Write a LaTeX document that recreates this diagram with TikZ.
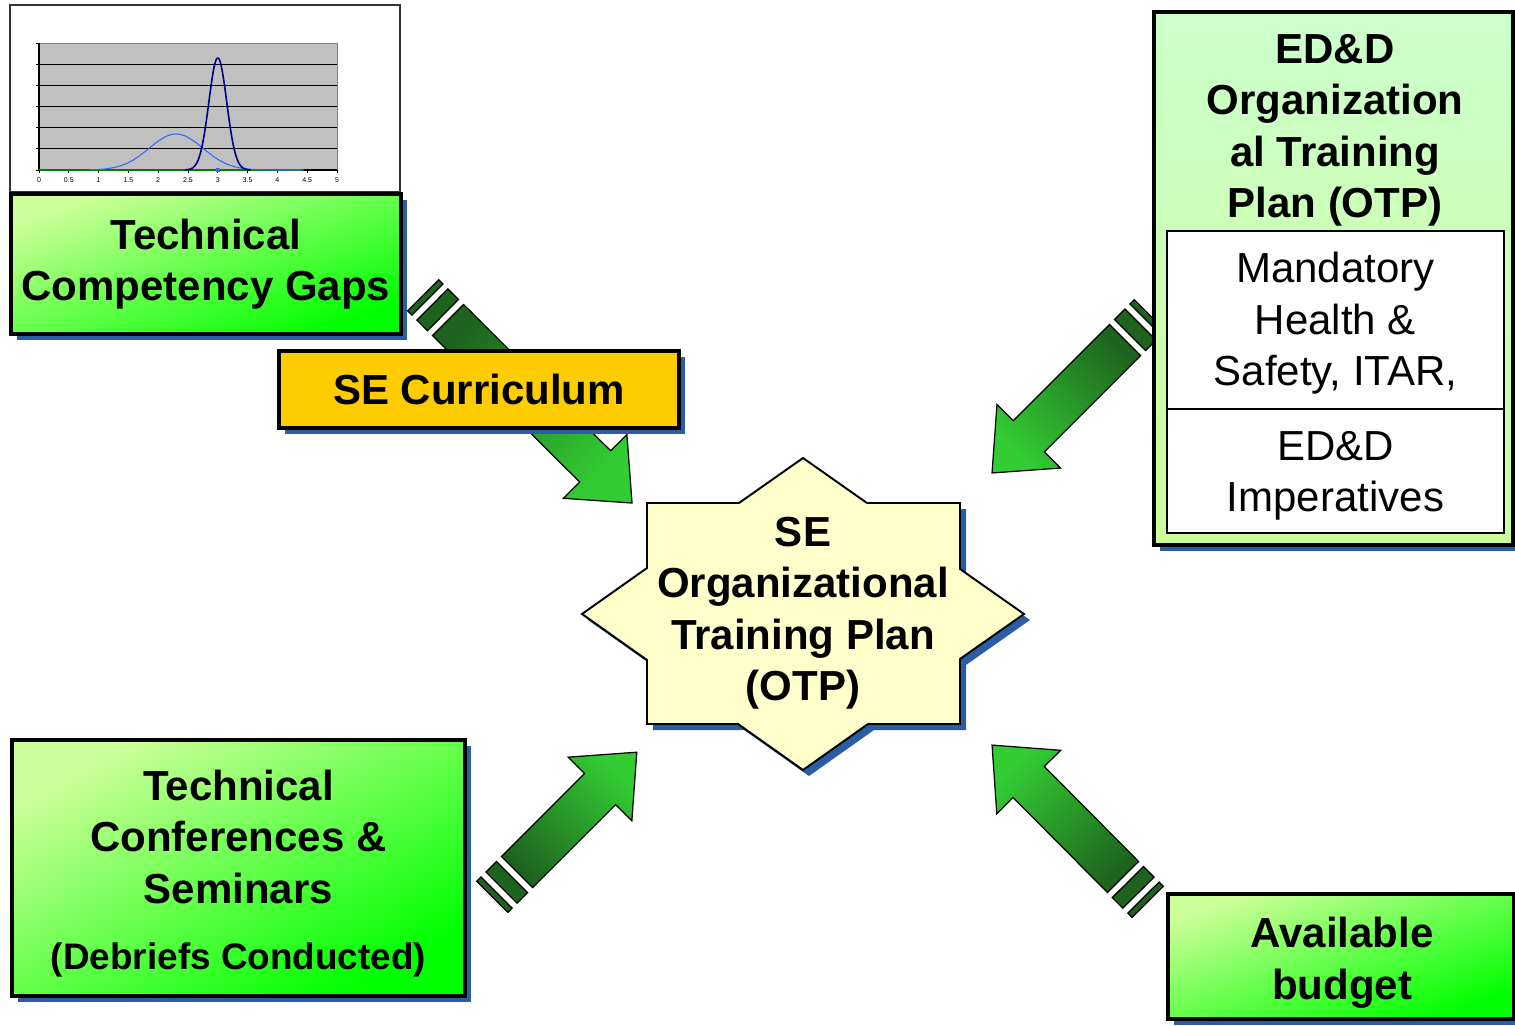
\documentclass[tikz,border=0pt]{standalone}
\usepackage{fontspec}
\setmainfont{Liberation Sans}
\usetikzlibrary{calc,shadows}

\definecolor{box-green}{HTML}{00FF00}
\definecolor{box-light}{HTML}{CCFF99}
\definecolor{plan-light}{HTML}{CCFFCC}
\definecolor{curr-gold}{HTML}{FFCC00}
\definecolor{star-fill}{HTML}{FFFFCC}
\definecolor{shadow-blue}{HTML}{2B5DA6}
\definecolor{arrow-dark}{HTML}{1E641E}
\definecolor{arrow-bright}{HTML}{33CC33}
\definecolor{chart-grey}{HTML}{C0C0C0}
\definecolor{curve-light}{HTML}{3366FF}
\definecolor{curve-dark}{HTML}{000080}

\tikzset{
  pics/otparrow/.style={code={
    \shade[draw=black, line width=0.7pt, top color=arrow-dark, bottom color=arrow-bright,
           shading angle=\arrshade]
      (0,-22) -- (#1-52,-22) -- (#1-52,-45) -- (#1,0) -- (#1-52,45) -- (#1-52,22) -- (0,22) -- cycle;
    \draw[fill=arrow-dark, line width=0.7pt] (-22,-22) rectangle (-7,22);
    \draw[fill=arrow-dark, line width=0.7pt] (-35,-22) rectangle (-29,22);
  }},
}

% block arrow with two tail stripes, from a tail coordinate to a tip coordinate
\newcommand{\blockarrow}[2]{%
  \pgfpointdiff{\pgfpointanchor{#1}{center}}{\pgfpointanchor{#2}{center}}%
  \pgfgetlastxy{\arrdx}{\arrdy}%
  \pgfmathsetmacro{\arrang}{atan2(\arrdy,\arrdx)}%
  \pgfmathsetmacro{\arrshade}{\arrang+90}%
  \pgfmathsetmacro{\arrlen}{veclen(\arrdx,\arrdy)/0.569055}%
  \pic[rotate=\arrang] at (#1) {otparrow=\arrlen};%
}

\begin{document}
\begin{tikzpicture}[x=0.02cm, y=0.02cm,
    every node/.style={font=\fontsize{23.9}{29.3}\selectfont\bfseries, align=center, inner sep=0pt},
    boxshadow/.style={general shadow={fill=shadow-blue, shadow xshift=0.12cm, shadow yshift=-0.12cm}},
    greenbox/.style={draw=black, line width=2.3pt, top color=box-light, bottom color=box-green, shading angle=#1, boxshadow},
    goldbox/.style={draw=black, line width=2.3pt, fill=curr-gold, boxshadow},
    planbox/.style={draw=black, line width=2.3pt, top color=plan-light, bottom color=box-light, boxshadow},
    rulebox/.style={draw=black, line width=0.85pt, fill=white},
    ruletext/.style={font=\fontsize{23.9}{29.3}\selectfont\mdseries},
    ticklabel/.style={font=\fontsize{4}{5}\selectfont\mdseries}]
  \useasboundingbox (0,0) rectangle (1515,-1025);

  % gap chart
  \draw[black!80, line width=0.6pt, fill=white] (10,-5) rectangle (400,-192);
  \fill[chart-grey] (39,-43) rectangle (337,-170);
  \draw[gray, line width=0.5pt] (39,-43) rectangle (337,-170);
  \foreach \gy in {64,85,106,127,148}
    \draw[black, line width=0.5pt] (39,-\gy) -- (337,-\gy);
  \foreach \gy in {43,64,85,106,127,148,170}
    \draw[black, line width=0.5pt] (36,-\gy) -- (39,-\gy);
  \draw[black, line width=0.6pt] (39,-43) -- (39,-170) -- (337,-170);
  \foreach \i/\lab in {0/0,1/0.5,2/1,3/1.5,4/2,5/2.5,6/3,7/3.5,8/4,9/4.5,10/5} {
    \draw[black, line width=0.4pt] ({39+\i*29.8},-170) -- ++(0,-3);
    \node[ticklabel] (tick\i) at ({39+\i*29.8},-180) {\lab};
  }
  \draw[green!50!black, line width=0.8pt] (39,-170) -- (302,-170);
  \draw[curve-light, line width=0.6pt, domain=0.85:4.45, samples=90]
    plot ({39+\x*59.6},{-170+36*exp(-(\x-2.3)^2/(2*0.45^2))});
  \draw[curve-dark, line width=0.9pt, domain=2.45:3.55, samples=90]
    plot ({39+\x*59.6},{-170+112*exp(-(\x-3)^2/(2*0.15^2))});
  \fill[curve-light] (216,-168) rectangle (220,-172);

  % arrow ends
  \coordinate (gaps-out) at (448,-320);   \coordinate (gaps-in) at (632,-503);
  \coordinate (plan-out) at (1125,-340);  \coordinate (plan-in) at (992,-473);
  \coordinate (conf-out) at (517,-872);   \coordinate (conf-in) at (637,-752);
  \coordinate (budget-out) at (1123,-877);\coordinate (budget-in) at (992,-745);

  \blockarrow{gaps-out}{gaps-in}
  \blockarrow{plan-out}{plan-in}
  \blockarrow{conf-out}{conf-in}
  \blockarrow{budget-out}{budget-in}

  % input boxes
  \node[greenbox=20, minimum width=7.8cm, minimum height=2.8cm] (gaps) at (206,-264)
    {Technical\\Competency Gaps};
  \node[goldbox, minimum width=8cm, minimum height=1.54cm] (curr) at (479,-389.5)
    {SE Curriculum};

  \node[planbox, minimum width=7.18cm, minimum height=10.66cm] (plan) at (1333.5,-278.5) {};
  \node (plan-title) at (1335,-130.5) {ED\&D\\Organization\\al Training\\Plan (OTP)};
  \node[rulebox, minimum width=6.74cm, minimum height=3.56cm] (rules) at (1335.5,-320) {};
  \node[rulebox, minimum width=6.74cm, minimum height=2.48cm] (imper) at (1335.5,-471) {};
  \node[ruletext] (rules-text) at (rules) [yshift=-0.07cm] {Mandatory\\Health \&\\Safety, ITAR,};
  \node[ruletext] (imper-text) at (imper) [yshift=-0.1cm] {ED\&D\\Imperatives};

  \node[greenbox=29, minimum width=9.06cm, minimum height=5.12cm] (conf) at (238.5,-868) {};
  \node (conf-text) at (238.5,-836.5) {Technical\\Conferences \&\\Seminars};
  \node[font=\fontsize{21}{26}\selectfont\bfseries] (conf-note) at (238.5,-960)
    {(Debriefs Conducted)};

  \node[greenbox=20, minimum width=6.92cm, minimum height=2.5cm] (budget) at (1341,-956.5) {};
  \node (budget-text) at (1342,-962.5) {Available\\budget};

  % centre star
  \draw[draw=black, line width=1.1pt, fill=star-fill, boxshadow]
    (803,-458) -- (867,-503) -- (960,-503) -- (960,-569) -- (1024,-614) -- (960,-659)
    -- (960,-724) -- (868,-724) -- (803,-770) -- (738,-724) -- (647,-724) -- (647,-660)
    -- (582,-614) -- (647,-568) -- (647,-503) -- (739,-503) -- cycle;
  \node (otp) at (803,-613) {SE\\Organizational\\Training Plan\\(OTP)};
\end{tikzpicture}
\end{document}
